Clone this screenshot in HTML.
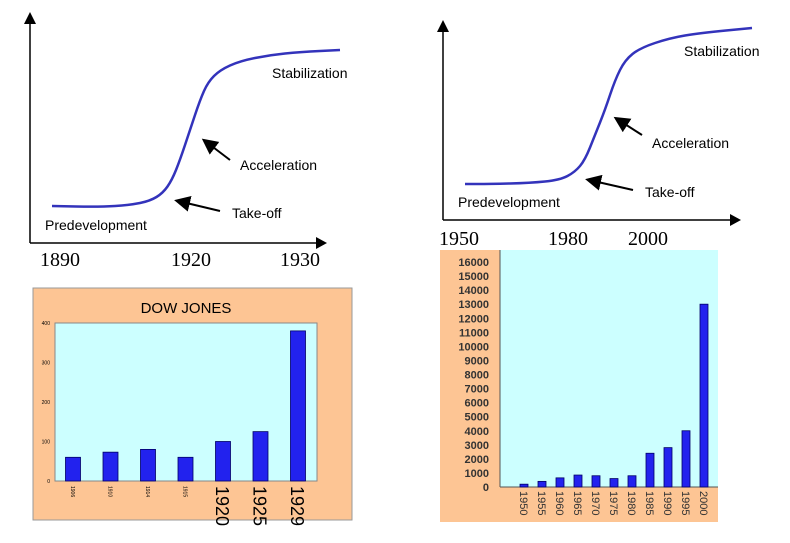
<!DOCTYPE html>
<html><head><meta charset="utf-8"><style>
body{margin:0;background:#fff;width:790px;height:543px;overflow:hidden}
svg{display:block;font-family:"Liberation Sans",sans-serif}
</style></head><body>
<svg id="s" width="790" height="543" viewBox="0 0 790 543">
<defs><marker id="ah" markerWidth="8" markerHeight="8" refX="6" refY="4" orient="auto"><path d="M0,0 L8,4 L0,8 z" fill="#000"/></marker></defs>
<g>
<line x1="30" y1="243" x2="30" y2="22" stroke="#000" stroke-width="1.5"/>
<path d="M24,24 L30,12 L36,24z" fill="#000"/>
<line x1="30" y1="243" x2="318" y2="243" stroke="#000" stroke-width="1.5"/>
<path d="M316,237 L327,243 L316,249z" fill="#000"/>
<path id="c1" fill="none" stroke="#3333bb" stroke-width="2.5"/>
<text x="272" y="78" font-size="14">Stabilization</text>
<text x="240" y="170" font-size="14">Acceleration</text>
<text x="232" y="218" font-size="14">Take-off</text>
<text x="45" y="230" font-size="14">Predevelopment</text>
<line x1="230" y1="160" x2="205" y2="141" stroke="#000" stroke-width="2" marker-end="url(#ah)"/>
<line x1="220" y1="211" x2="178" y2="201" stroke="#000" stroke-width="2" marker-end="url(#ah)"/>
<g font-family="Liberation Serif,serif" font-size="20">
<text x="40" y="266">1890</text>
<text x="171" y="266">1920</text>
<text x="280" y="266">1930</text></g>
</g>
<g>
<line x1="443" y1="220" x2="443" y2="30" stroke="#000" stroke-width="1.5"/>
<path d="M437,32 L443,20 L449,32z" fill="#000"/>
<line x1="443" y1="220" x2="732" y2="220" stroke="#000" stroke-width="1.5"/>
<path d="M730,214 L741,220 L730,226z" fill="#000"/>
<path id="c2" fill="none" stroke="#3333bb" stroke-width="2.5"/>
<text x="684" y="56" font-size="14">Stabilization</text>
<text x="652" y="148" font-size="14">Acceleration</text>
<text x="645" y="197" font-size="14">Take-off</text>
<text x="458" y="207" font-size="14">Predevelopment</text>
<line x1="642" y1="135" x2="617" y2="119" stroke="#000" stroke-width="2" marker-end="url(#ah)"/>
<line x1="633" y1="190" x2="589" y2="180" stroke="#000" stroke-width="2" marker-end="url(#ah)"/>
<g font-family="Liberation Serif,serif" font-size="20">
<text x="439" y="245">1950</text>
<text x="548" y="245">1980</text>
<text x="628" y="245">2000</text></g>
</g>
<g>
<rect x="33" y="288" width="319" height="232" fill="#fdc594" stroke="#999"/>
<text x="186" y="313" font-size="15" text-anchor="middle">DOW JONES</text>
<rect x="55" y="323" width="262" height="158" fill="#ccffff" stroke="#888"/>
<g id="dj"></g>
</g>
<g>
<rect x="440" y="250" width="60" height="272" fill="#fdc594"/>
<rect x="440" y="487" width="278" height="35" fill="#fdc594"/>
<rect x="500" y="250" width="218" height="237" fill="#ccffff"/>
<line x1="500" y1="250" x2="500" y2="487" stroke="#555"/>
<line x1="500" y1="487" x2="718" y2="487" stroke="#555"/>
<g id="ix"></g>
</g>
</svg>
<script>
const curve1X=[52,100,130,150,163,172,180,190,200,208,220,240,270,300,340];
const curve1Y=[206,207,205,201,193,180,160,130,100,82,70,61,55,52,50];
const curve2X=[465,490,530,560,575,585,595,605,615,625,640,670,700,752];
const curve2Y=[184,184,183,180,172,160,135,110,80,60,48,38,33,28];
const djCats=["1906","1910","1914","1915","1920","1925","1929"];
const djVals=[60,73,80,60,100,125,380];
const djTicks=[0,100,200,300,400];
const ixCats=["1950","1955","1960","1965","1970","1975","1980","1985","1990","1995","2000"];
const ixVals=[200,400,650,850,800,600,800,2400,2800,4000,13000];
const ixTicks=[0,1000,2000,3000,4000,5000,6000,7000,8000,9000,10000,11000,12000,13000,14000,15000,16000];
const NS="http://www.w3.org/2000/svg";
function mk(t,a,p){const e=document.createElementNS(NS,t);for(const k in a)e.setAttribute(k,a[k]);p.appendChild(e);return e;}
function smooth(xs,ys){let d="M"+xs[0]+","+ys[0];for(let i=1;i<xs.length;i++){const mx=(xs[i-1]+xs[i])/2,my=(ys[i-1]+ys[i])/2;d+=" Q"+xs[i-1]+","+ys[i-1]+" "+mx+","+my;}return d+" L"+xs[xs.length-1]+","+ys[ys.length-1];}
document.getElementById("c1").setAttribute("d",smooth(curve1X,curve1Y));
document.getElementById("c2").setAttribute("d",smooth(curve2X,curve2Y));
// Dow Jones
const dj=document.getElementById("dj");
const djY=v=>481-v/400*158, djX=i=>73+i*37.5;
djTicks.forEach(t=>{const e=mk("text",{x:50,y:djY(t)+2,"font-size":5,"text-anchor":"end"},dj);e.textContent=t;

});
djVals.forEach((v,i)=>{const r=mk("rect",{x:djX(i)-7.5,y:djY(v),width:15,height:481-djY(v),fill:"#2222ee",stroke:"#000066","stroke-width":0.8},dj);


const big=i>=4;const t=mk("text",{transform:`translate(${djX(i)-(big?7:2)},${486}) rotate(90)`,"font-size":big?18:5},dj);t.textContent=djCats[i];

});
// Index
const ix=document.getElementById("ix");
const ixY=v=>487-v/16000*225, ixX=i=>524+i*18;
ixTicks.forEach(t=>{const e=mk("text",{x:489,y:ixY(t)+4,"font-size":11,"font-weight":"bold",fill:"#333","text-anchor":"end"},ix);e.textContent=t;

});
ixVals.forEach((v,i)=>{const r=mk("rect",{x:ixX(i)-4,y:ixY(v),width:8,height:487-ixY(v),fill:"#2222ee",stroke:"#000066","stroke-width":0.8},ix);


const t=mk("text",{transform:`translate(${ixX(i)-4},${491}) rotate(90)`,"font-size":11,fill:"#333"},ix);t.textContent=ixCats[i];

});
</script>
</body></html>
